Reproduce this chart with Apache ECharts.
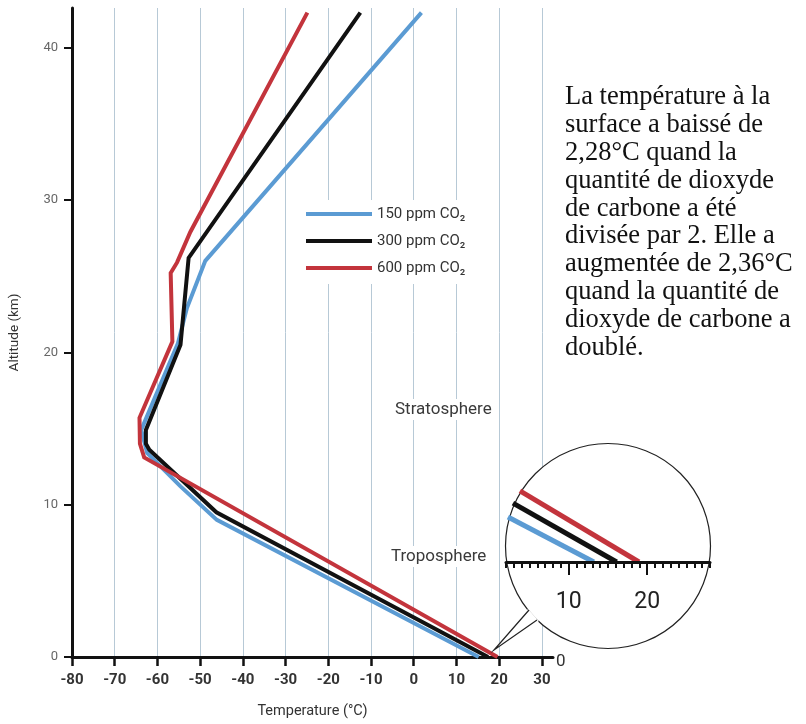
<!DOCTYPE html>
<html>
<head>
<meta charset="utf-8">
<script src="https://cdn.jsdelivr.net/npm/echarts@6/dist/echarts.min.js"></script>
<style>html,body{margin:0;padding:0;background:#fff}#c{width:806px;height:724px}</style>
</head>
<body>
<div id="c"></div>
<script>
// ---- data ----
const seriesNames = ['150 ppm CO\u2082', '300 ppm CO\u2082', '600 ppm CO\u2082'];
const temp150 = [15.2, -46.1, -54.6, -62.4, -63.8, -55.2, -53.1, -48.8, 1.8];
const alt150  = [0,     9.0,  11.2,  13.4,  14.9,  20.6,  22.9,  26.0, 42.3];
const temp300 = [17.4, -46.2, -61.9, -62.7, -62.7, -54.6, -52.7, -12.5];
const alt300  = [0,     9.5,  13.6,  14.0,  14.9,  20.5,  26.2,  42.3];
const temp600 = [19.6, -63.1, -64.1, -64.2, -56.5, -56.9, -55.4, -52.3, -24.9];
const alt600  = [0,    13.1,  14.0,  15.7,  20.7,  25.2,  25.9,  27.9,  42.3];
// zoomed inset (surface detail)
const insetTemp150 = [13.2, 2.25];
const insetAlt150  = [0, 1.59];
const insetTemp300 = [16.1, 2.89];
const insetAlt300  = [0, 2.08];
const insetTemp600 = [18.95, 3.78];
const insetAlt600  = [0, 2.51];
// ticks
const xTicks = [-80, -70, -60, -50, -40, -30, -20, -10, 0, 10, 20, 30];
const yTicks = [0, 10, 20, 30, 40];
const insetMajorTicks = [10, 20];

const colors = ['#5b9bd3', '#111111', '#c3343c'];
const zip = (a, b) => a.map((v, i) => [v, b[i]]);
const condensed = "'Liberation Sans Narrow', 'Roboto', sans-serif";

const chart = echarts.init(document.getElementById('c'));
const gridColor = '#b7c9d6';
const splitColors = xTicks.map(() => gridColor).concat(['rgba(0,0,0,0)']);

const mainData = [zip(temp150, alt150), zip(temp300, alt300), zip(temp600, alt600)];
const insetData = [zip(insetTemp150, insetAlt150), zip(insetTemp300, insetAlt300), zip(insetTemp600, insetAlt600)];

const series = [];
mainData.forEach((d, i) => series.push({
  name: seriesNames[i], type: 'line', data: d, xAxisIndex: 0, yAxisIndex: 0,
  showSymbol: false, symbol: 'none', z: 2, animation: false,
  lineStyle: { color: colors[i], width: 4, join: 'miter' }, itemStyle: { color: colors[i] }
}));
insetData.forEach((d, i) => series.push({
  name: seriesNames[i], type: 'line', data: d, xAxisIndex: 1, yAxisIndex: 1,
  showSymbol: false, symbol: 'none', z: 20, animation: false,
  lineStyle: { color: colors[i], width: 5, cap: 'butt' }, itemStyle: { color: colors[i] }
}));

const option = {
  animation: false,
  backgroundColor: '#fff',
  grid: [
    { left: 67, right: 253, top: 8, bottom: 62 },
    { left: 506, width: 204, top: 443, height: 119 }
  ],
  xAxis: [
    {
      gridIndex: 0, type: 'value', min: -80, max: 32.6, interval: 10,
      name: 'Temperature (\u00b0C)', nameLocation: 'middle', nameGap: 47,
      nameTextStyle: { fontFamily: condensed, fontSize: 14.5, color: '#333' },
      axisLine: { onZero: false, lineStyle: { color: '#111', width: 3 } },
      axisTick: { customValues: xTicks, length: 9, lineStyle: { color: '#111', width: 2.5 } },
      axisLabel: { customValues: xTicks, color: '#333', fontSize: 15, fontWeight: 'bold', margin: 16, fontFamily: condensed },
      splitLine: { show: true, lineStyle: { color: splitColors, width: 1 } }
    },
    {
      gridIndex: 1, type: 'value', min: 2, max: 28, interval: 1, position: 'bottom', z: 21,
      axisLine: { onZero: false, lineStyle: { color: '#111', width: 3 } },
      axisTick: { length: 6, lineStyle: { color: '#111', width: 2 } },
      axisLabel: { show: false }, splitLine: { show: false }
    },
    {
      gridIndex: 1, type: 'value', min: 2, max: 28, position: 'bottom', z: 21,
      axisLine: { show: false },
      axisTick: { customValues: insetMajorTicks, length: 13, lineStyle: { color: '#111', width: 2 } },
      axisLabel: { customValues: insetMajorTicks, color: '#222', fontSize: 23, margin: 29, fontFamily: condensed },
      splitLine: { show: false }
    }
  ],
  yAxis: [
    {
      gridIndex: 0, type: 'value', min: 0, max: 42.6, interval: 10,
      name: 'Altitude (km)', nameLocation: 'middle', nameGap: 50, nameRotate: 90,
      nameTextStyle: { fontFamily: condensed, fontSize: 13.5, color: '#333' },
      axisLine: { show: true, onZero: false, lineStyle: { color: '#111', width: 3 } },
      axisTick: { show: true, customValues: yTicks, length: 8, lineStyle: { color: '#111', width: 2 } },
      axisLabel: { customValues: yTicks, color: '#666', fontSize: 13, margin: 14, fontFamily: condensed },
      splitLine: { show: false }
    },
    { gridIndex: 1, type: 'value', min: 0, max: 4.2, show: false }
  ],
  legend: {
    data: seriesNames, orient: 'vertical', left: 298, top: 200,
    backgroundColor: '#fff', padding: [6, 30, 8, 8],
    itemWidth: 66, itemHeight: 4, itemGap: 11, icon: 'rect',
    textStyle: { fontFamily: condensed, fontSize: 15, color: '#333', lineHeight: 16 },
    selectedMode: false
  },
  graphic: { elements: [
    { type: 'text', left: 392, top: 399, z: 5,
      style: { text: 'Stratosphere', font: "17px 'Liberation Sans Narrow', Roboto, sans-serif", fill: '#3a3a3a', backgroundColor: '#fff', padding: [2, 3] } },
    { type: 'text', left: 388, top: 546, z: 5,
      style: { text: 'Troposphere', font: "17px 'Liberation Sans Narrow', Roboto, sans-serif", fill: '#3a3a3a', backgroundColor: '#fff', padding: [2, 3] } },
    { type: 'text', left: 556, top: 653, z: 5,
      style: { text: '0', font: "17px 'Liberation Sans Narrow', Roboto, sans-serif", fill: '#333' } },
    { type: 'text', left: 565, top: 83, z: 5,
      style: { text: 'La temp\u00e9rature \u00e0 la\nsurface a baiss\u00e9 de\n2,28\u00b0C quand la\nquantit\u00e9 de dioxyde\nde carbone a \u00e9t\u00e9\ndivis\u00e9e par 2. Elle a\naugment\u00e9e de 2,36\u00b0C\nquand la quantit\u00e9 de\ndioxyde de carbone a\ndoubl\u00e9.',
        font: "26.5px 'Liberation Serif', 'Times New Roman', serif", fill: '#111', lineHeight: 27.9 } },
    { type: 'circle', shape: { cx: 608, cy: 546, r: 102.5 }, z: 10,
      style: { fill: '#fff', stroke: '#222', lineWidth: 1.2 } },
    { type: 'polygon', shape: { points: [[494, 650], [528, 609], [539, 621]] }, z: 11,
      style: { fill: '#fff', stroke: null } },
    { type: 'polyline', shape: { points: [[529, 610], [494, 650], [537, 620]] }, z: 12,
      style: { fill: null, stroke: '#222', lineWidth: 1.2 } }
  ] },
  series: series
};
chart.setOption(option);
</script>
</body>
</html>
